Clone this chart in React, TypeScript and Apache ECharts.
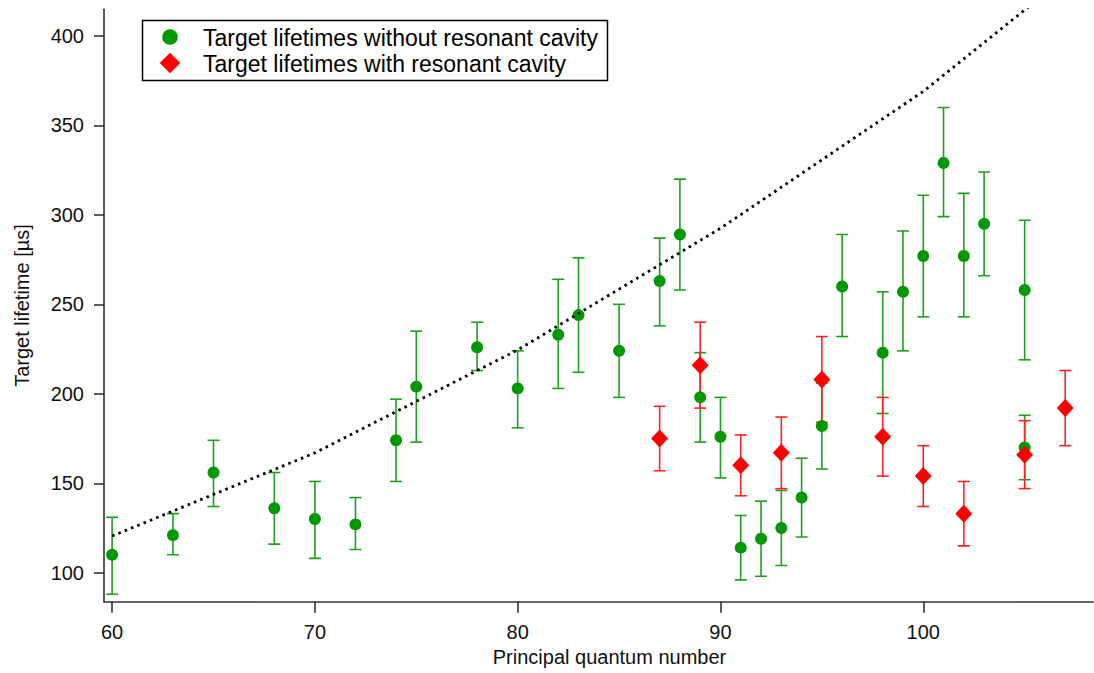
import React, { useEffect, useRef } from "react";
import * as echarts from "echarts";

// ---- data ----
const greenX = [60, 63, 65, 68, 70, 72, 74, 75, 78, 80, 82, 83, 85, 87, 88, 89, 90, 91, 92, 93, 94, 95, 96, 98, 99, 100, 101, 102, 103, 105, 105];
const greenY = [110, 121, 156, 136, 130, 127, 174, 204, 226, 203, 233, 244, 224, 263, 289, 198, 176, 114, 119, 125, 142, 182, 260, 223, 257, 277, 329, 277, 295, 258, 170];
const greenLow = [88, 110, 137, 116, 108, 113, 151, 173, 213, 181, 203, 212, 198, 238, 258, 173, 153, 96, 98, 104, 120, 158, 232, 189, 224, 243, 299, 243, 266, 219, 152];
const greenHigh = [131, 133, 174, 156, 151, 142, 197, 235, 240, 224, 264, 276, 250, 287, 320, 223, 198, 132, 140, 146, 164, 206, 289, 257, 291, 311, 360, 312, 324, 297, 188];

const redX = [87, 89, 91, 93, 95, 98, 100, 102, 105, 107];
const redY = [175, 216, 160, 167, 208, 176, 154, 133, 166, 192];
const redLow = [157, 192, 143, 147, 184, 154, 137, 115, 147, 171];
const redHigh = [193, 240, 177, 187, 232, 198, 171, 151, 185, 213];

const curveX = [60, 70, 80, 90, 100, 110];
const curveY = [120.5, 167, 224.5, 292.5, 369, 460];

const xTicks = [60, 70, 80, 90, 100];
const yTicks = [100, 150, 200, 250, 300, 350, 400];

const seriesNames = ["Target lifetimes without resonant cavity", "Target lifetimes with resonant cavity"];
const xTitle = "Principal quantum number";
const yTitle = "Target lifetime [µs]";

const GREEN = "#009900";
const GREEN_BAR = "#1f9f1f";
const RED = "#ff0000";
const RED_BAR = "#ff2222";
const FONT = "'Liberation Sans', Arial, sans-serif";

function errorBarSeries(xs: number[], lo: number[], hi: number[], color: string) {
  return {
    type: "custom",
    data: xs.map((x, i) => [x, lo[i], hi[i]]),
    encode: { x: 0, y: [1, 2] },
    clip: true,
    silent: true,
    renderItem: (params: any, api: any) => {
      const x = api.value(0);
      const pLo = api.coord([x, api.value(1)]);
      const pHi = api.coord([x, api.value(2)]);
      const hw = 6;
      const style = { stroke: color, lineWidth: 1.6, fill: "none" };
      return {
        type: "group",
        children: [
          { type: "line", shape: { x1: pLo[0], y1: pLo[1], x2: pHi[0], y2: pHi[1] }, style },
          { type: "line", shape: { x1: pLo[0] - hw, y1: pLo[1], x2: pLo[0] + hw, y2: pLo[1] }, style },
          { type: "line", shape: { x1: pHi[0] - hw, y1: pHi[1], x2: pHi[0] + hw, y2: pHi[1] }, style },
        ],
      };
    },
  };
}

export default function App() {
  const ref = useRef<HTMLDivElement>(null);
  useEffect(() => {
    if (!ref.current) return;
    const chart = echarts.init(ref.current, null, { renderer: "svg" });
    const axisColor = "#333333";
    chart.setOption({
      animation: false,
      backgroundColor: "#ffffff",
      textStyle: { fontFamily: FONT },
      grid: { left: 104, right: 1, top: 9.3, bottom: 71.3, containLabel: false },
      xAxis: {
        type: "value",
        min: 59.6,
        max: 108.37,
        splitLine: { show: false },
        axisLine: { show: true, onZero: false, lineStyle: { color: axisColor, width: 1.6 } },
        axisTick: { show: true, inside: false, length: 11, customValues: xTicks, lineStyle: { color: axisColor, width: 1.6 } },
        axisLabel: { customValues: xTicks, margin: 20, fontSize: 20, color: "#111", fontFamily: FONT },
        name: xTitle,
        nameLocation: "middle",
        nameGap: 44,
        nameTextStyle: { fontSize: 20, color: "#111", fontFamily: FONT, padding: [0, 0, 0, 22] },
      },
      yAxis: {
        type: "value",
        min: 83.8,
        max: 414.9,
        splitLine: { show: false },
        axisLine: { show: true, onZero: false, lineStyle: { color: axisColor, width: 1.6 } },
        axisTick: { show: true, inside: false, length: 10, customValues: yTicks, lineStyle: { color: axisColor, width: 1.6 } },
        axisLabel: { customValues: yTicks, margin: 20, fontSize: 20, color: "#111", fontFamily: FONT },
        name: yTitle,
        nameLocation: "middle",
        nameGap: 72,
        nameTextStyle: { fontSize: 20, color: "#111", fontFamily: FONT },
      },
      series: [
        errorBarSeries(greenX, greenLow, greenHigh, GREEN_BAR),
        {
          type: "scatter",
          name: seriesNames[0],
          data: greenX.map((x, i) => [x, greenY[i]]),
          symbol: "circle",
          symbolSize: 12,
          itemStyle: { color: GREEN, opacity: 1 },
          silent: true,
        },
        errorBarSeries(redX, redLow, redHigh, RED_BAR),
        {
          type: "scatter",
          name: seriesNames[1],
          data: redX.map((x, i) => [x, redY[i]]),
          symbol: "diamond",
          symbolSize: [17, 18],
          itemStyle: { color: RED, opacity: 1 },
          silent: true,
        },
        {
          type: "line",
          data: curveX.map((x, i) => [x, curveY[i]]),
          showSymbol: false,
          symbol: "none",
          clip: true,
          silent: true,
          lineStyle: { color: "#000", width: 2.8, type: [2.6, 4.2] },
        },
      ],
      graphic: [
        {
          type: "group",
          z: 100,
          children: [
            { type: "rect", shape: { x: 142.5, y: 20.5, width: 465, height: 60 }, style: { fill: "#fff", stroke: "#000", lineWidth: 1.5 } },
            { type: "circle", shape: { cx: 170, cy: 37, r: 7.8 }, style: { fill: GREEN } },
            {
              type: "polygon",
              shape: { points: [[170, 52.7], [180.3, 63], [170, 73.3], [159.7, 63]] },
              style: { fill: RED },
            },
            { type: "text", x: 203, y: 37.5, style: { text: seriesNames[0], fill: "#000", font: `23px ${FONT}`, verticalAlign: "middle", align: "left" } },
            { type: "text", x: 203, y: 63.5, style: { text: seriesNames[1], fill: "#000", font: `23px ${FONT}`, verticalAlign: "middle", align: "left" } },
          ],
        },
      ],
    });
    return () => chart.dispose();
  }, []);
  return <div ref={ref} style={{ position: "fixed", left: 0, top: 0, width: 1094, height: 673, background: "#fff" }} />;
}
